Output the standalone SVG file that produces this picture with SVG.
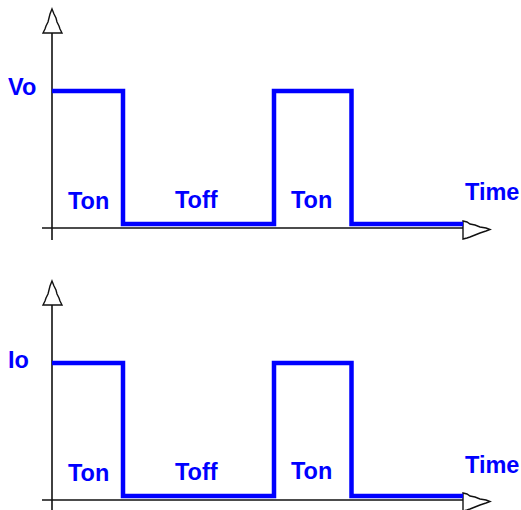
<svg xmlns="http://www.w3.org/2000/svg" width="521" height="510" viewBox="0 0 521 510">
<defs>
<style>
.axis{stroke:#111;stroke-width:1.6;fill:none}
.head{fill:#fff;stroke:#111;stroke-width:1.4;stroke-linejoin:miter}
.wave{stroke:#0000ff;stroke-width:4.5;fill:none;stroke-linejoin:miter;stroke-linecap:butt}
.lbl{font-family:"Liberation Sans",Arial,sans-serif;font-weight:bold;font-size:23.5px;fill:#0000ff}
</style>
<g id="plot">
<line class="axis" x1="52" y1="32" x2="52" y2="240"/>
<line class="axis" x1="42" y1="228" x2="463" y2="228"/>
<polygon class="head" points="52,9 54,14 56,18 57,22 59,26 60,29 62,33 43,33 45,29 46,26 48,22 49,18 50,14"/>
<polygon class="head" points="463,221 467,222 470,224 475,225 480,227 486,228 490,229.5 486,231 480,233 475,235 470,237 467,238 463,239"/>
<path class="wave" d="M52,91 H123 V224 H274 V91 H351.5 V224 H463"/>
</g>
</defs>
<g id="voltage-plot">
<use href="#plot"/>
<g id="label-vo"><text class="lbl" x="8" y="95">Vo</text></g>
<g id="label-ton1"><text class="lbl" x="68" y="209">Ton</text></g>
<g id="label-toff"><text class="lbl" x="175" y="208">Toff</text></g>
<g id="label-ton2"><text class="lbl" x="291" y="208">Ton</text></g>
<g id="label-time1"><text class="lbl" x="465" y="200">Time</text></g>
</g>
<g id="current-plot">
<use href="#plot" transform="translate(0,272)"/>
<g id="label-io"><text class="lbl" x="8" y="368">Io</text></g>
<g id="label-ton3"><text class="lbl" x="68" y="481">Ton</text></g>
<g id="label-toff2"><text class="lbl" x="175" y="480">Toff</text></g>
<g id="label-ton4"><text class="lbl" x="291" y="479">Ton</text></g>
<g id="label-time2"><text class="lbl" x="465" y="473">Time</text></g>
</g>
</svg>
